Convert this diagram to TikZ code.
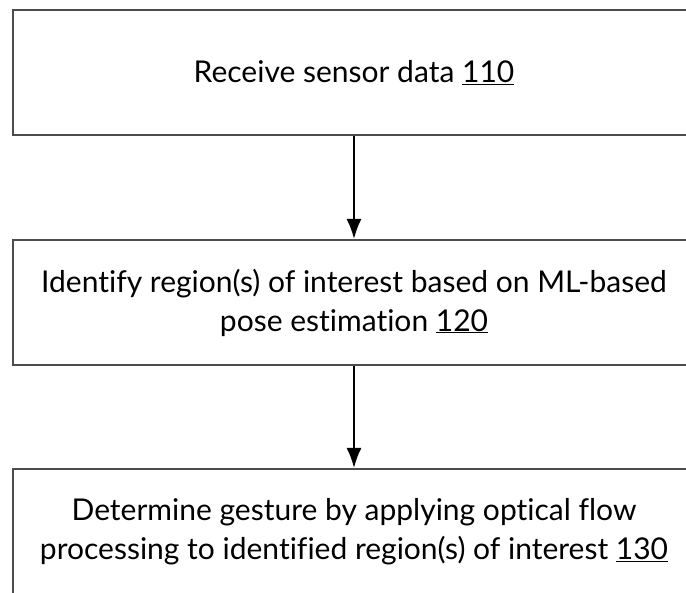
\documentclass[tikz,border=0pt]{standalone}
\usepackage{fontspec}
\setmainfont[Ligatures=NoCommon]{Lato}
\usepackage{tikz}
\usetikzlibrary{arrows.meta}

\begin{document}
\begin{tikzpicture}[x=1pt,y=-1pt,
  stepbox/.style={draw=black!70,line width=2pt,minimum width=682pt,minimum height=125pt,
    align=center,inner sep=0pt,font=\fontsize{30}{39}\selectfont},
  flow/.style={draw=black,line width=2pt,-{Latex[length=20pt,width=15pt]}}]
\clip (0,0) rectangle (686,593);
\node[stepbox] (recv) at (354,72.5) {Receive sensor data \underline{110}};
\node[stepbox] (roi) at (354,302.5) {Identify region(s) of interest based on ML-based\\pose estimation \underline{120}};
\node[stepbox] (gest) at (354,531.5) {Determine gesture by applying optical flow\\processing to identified region(s) of interest \underline{130}};
\draw[flow] (recv) -- (roi);
\draw[flow] (roi) -- (gest);
\end{tikzpicture}
\end{document}
